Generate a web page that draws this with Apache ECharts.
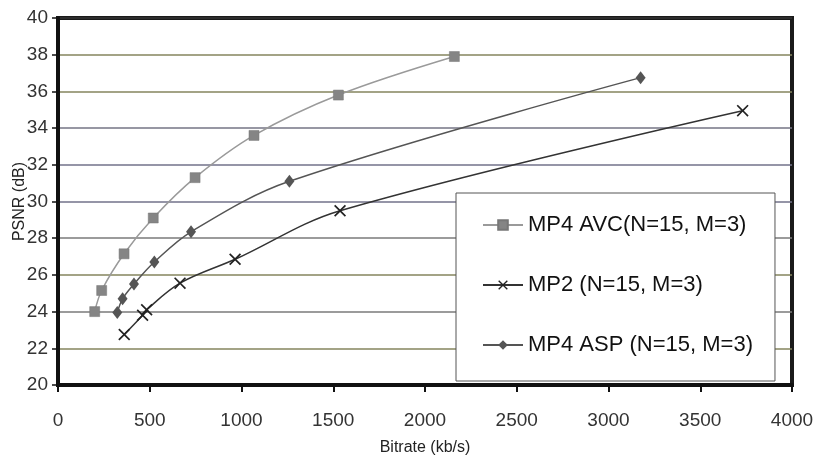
<!DOCTYPE html>
<html>
<head>
<meta charset="utf-8">
<script src="https://cdn.jsdelivr.net/npm/echarts@6/dist/echarts.min.js"></script>
<style>html,body{margin:0;padding:0;background:#fff}#c{width:813px;height:461px}</style>
</head>
<body>
<div id="c"></div>
<script>
const seriesNames = ['MP4 AVC(N=15, M=3)', 'MP2 (N=15, M=3)', 'MP4 ASP (N=15, M=3)'];
const avcData = [[200,24.0],[238,25.15],[360,27.15],[519,29.1],[747,31.3],[1068,33.6],[1528,35.8],[2160,37.9]];
const mp2Data = [[361,22.75],[461,23.8],[483,24.1],[665,25.55],[965,26.85],[1537,29.5],[3731,34.95]];
const aspData = [[323,23.95],[352,24.7],[414,25.5],[525,26.7],[725,28.35],[1261,31.1],[3175,36.75]];
const xTicks = [0,500,1000,1500,2000,2500,3000,3500,4000];
const yTicks = [20,22,24,26,28,30,32,34,36,38,40];

const FONT = "'Liberation Sans Narrow','Liberation Sans',Arial,sans-serif";
const xPath = 'path://M0,1L1,0L5,4L9,0L10,1L6,5L10,9L9,10L5,6L1,10L0,9L4,5Z';

const chart = echarts.init(document.getElementById('c'), null, {renderer:'canvas'});
chart.setOption({
  animation: false,
  backgroundColor: '#fff',
  grid: {left: 58, right: 21, top: 18, bottom: 76, outerBoundsMode: 'none', containLabel: false,
         show: true, borderColor: '#1a1a1a', borderWidth: 4, backgroundColor: 'transparent'},
  legend: {
    orient: 'vertical', left: 456, top: 193,
    data: seriesNames,
    backgroundColor: '#fff', borderColor: '#555', borderWidth: 1,
    padding: [21, 22, 25, 26],
    itemWidth: 40, itemHeight: 12, itemGap: 38,
    textStyle: {fontSize: 22, color: '#111', fontFamily: FONT, lineHeight: 22}
  },
  xAxis: {
    type: 'value', min: 0, max: 4000, interval: 500,
    name: 'Bitrate (kb/s)', nameLocation: 'middle', nameGap: 55, nameMoveOverlap: false,
    nameTextStyle: {fontSize: 16, color: '#222', fontFamily: FONT},
    axisLine: {show: true, lineStyle: {color: '#111', width: 4}},
    axisTick: {show: true, length: 7, lineStyle: {color: '#111', width: 2}},
    axisLabel: {fontSize: 19, color: '#333', fontFamily: FONT, margin: 26,
      formatter: v => xTicks.includes(v) ? String(v) : ''},
    splitLine: {show: false}
  },
  yAxis: {
    type: 'value', min: 20, max: 40, interval: 2,
    name: 'PSNR (dB)', nameLocation: 'middle', nameGap: 30, nameMoveOverlap: false,
    nameTextStyle: {fontSize: 16, color: '#222', fontFamily: FONT},
    axisLine: {show: true, lineStyle: {color: '#111', width: 4}},
    axisTick: {show: true, length: 6, lineStyle: {color: '#111', width: 1.5}},
    axisLabel: {fontSize: 19, color: '#333', fontFamily: FONT, margin: 10,
      formatter: v => yTicks.includes(v) ? String(v) : ''},
    splitLine: {show: true, lineStyle: {width: 1.5, color: ['#333','#84845e','#7a7a7a','#84845e','#7a7a7a','#72728a','#72728a','#757585','#84845e','#84845e','#333']}}
  },
  series: [
    {name: seriesNames[0], type: 'line', data: avcData, smooth: 0.35,
     symbol: 'rect', symbolSize: 10,
     lineStyle: {color: '#9a9a9a', width: 1.5},
     itemStyle: {color: '#858585', borderColor: '#777', borderWidth: 0.5}},
    {name: seriesNames[1], type: 'line', data: mp2Data, smooth: 0.35,
     symbol: xPath, symbolSize: 12,
     lineStyle: {color: '#333', width: 1.5},
     itemStyle: {color: '#222'}},
    {name: seriesNames[2], type: 'line', data: aspData, smooth: 0.35,
     symbol: 'diamond', symbolSize: [10, 13],
     lineStyle: {color: '#555', width: 1.5},
     itemStyle: {color: '#555'}}
  ]
});
</script>
</body>
</html>
